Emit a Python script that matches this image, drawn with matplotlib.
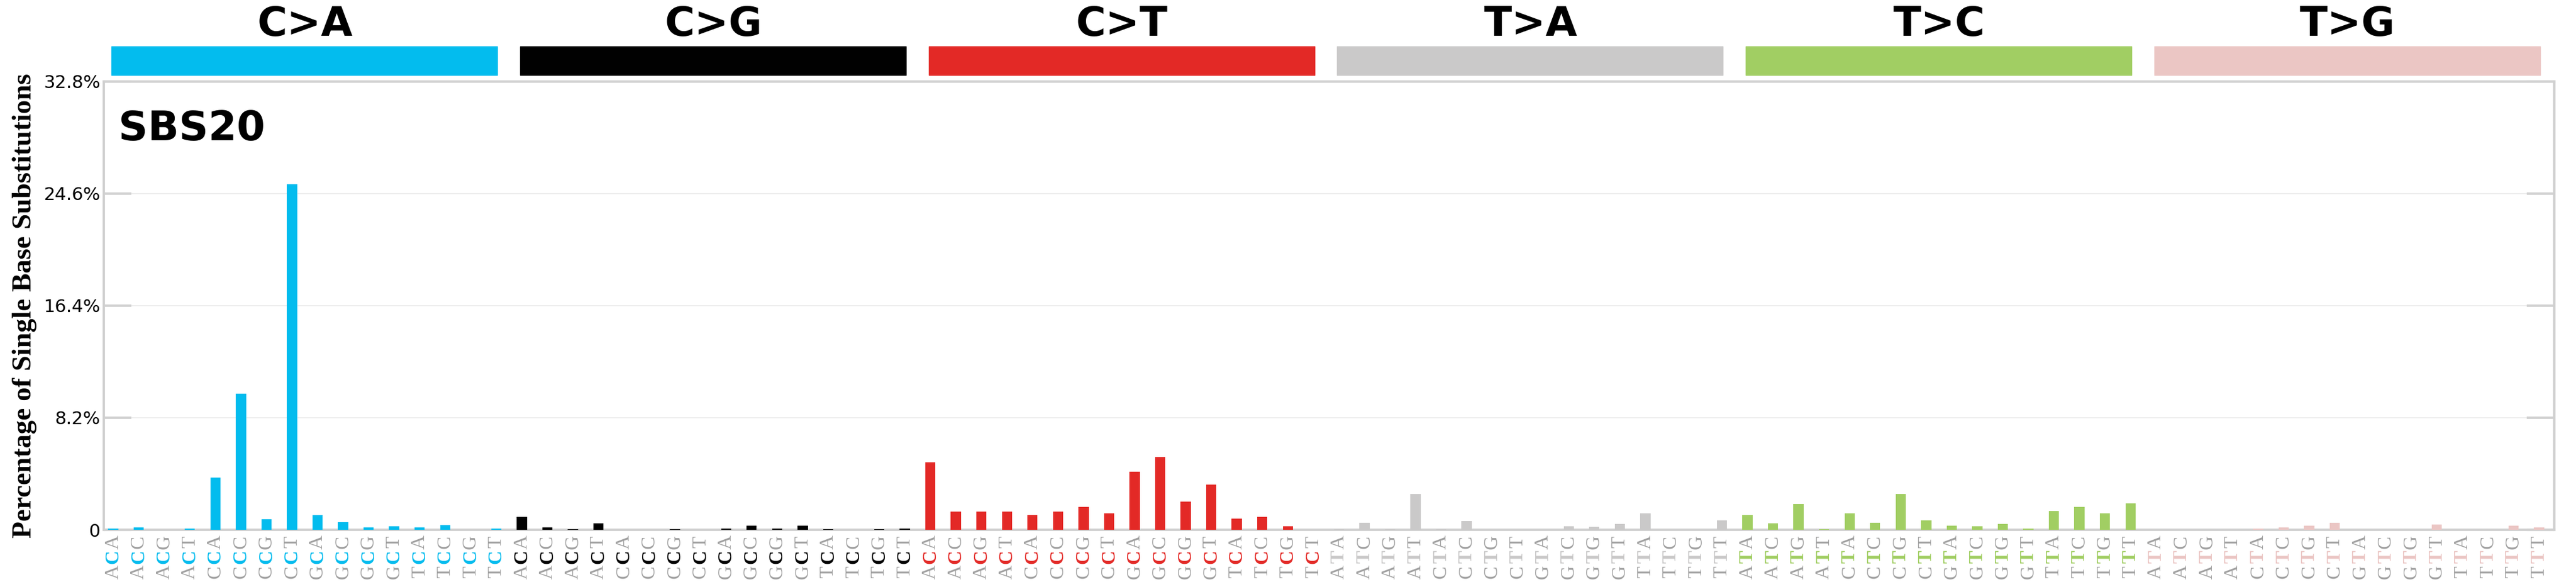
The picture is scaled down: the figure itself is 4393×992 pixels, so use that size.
import numpy as np
import matplotlib
matplotlib.use("Agg")
import matplotlib.pyplot as plt
import matplotlib.transforms as mtransforms

# SBS20 profile, percentages per trinucleotide context
mut_types = ["C>A", "C>G", "C>T", "T>A", "T>C", "T>G"]
colors = ["#03BCEE", "#010101", "#E32926", "#CAC9C9", "#A1CE63", "#EBC6C4"]
flanks = ["A", "C", "G", "T"]

ca = [0.1, 0.16, 0.0, 0.1, 3.8, 9.95, 0.76, 25.3, 1.06, 0.54, 0.16, 0.25, 0.16, 0.33, 0.0, 0.08]
cg = [0.93, 0.16, 0.03, 0.46, 0.0, 0.0, 0.03, 0.0, 0.08, 0.3, 0.08, 0.3, 0.03, 0.02, 0.03, 0.1]
ct = [4.93, 1.34, 1.34, 1.34, 1.06, 1.34, 1.66, 1.2, 4.25, 5.34, 2.07, 3.3, 0.82, 0.95, 0.25, 0.0]
ta = [0.03, 0.52, 0.03, 2.6, 0.03, 0.63, 0.02, 0.02, 0.0, 0.25, 0.22, 0.41, 1.2, 0.02, 0.02, 0.68]
tc = [1.06, 0.46, 1.88, 0.05, 1.2, 0.52, 2.6, 0.68, 0.3, 0.25, 0.41, 0.1, 1.36, 1.66, 1.2, 1.93]
tg = [0.0, 0.0, 0.0, 0.0, 0.1, 0.16, 0.3, 0.52, 0.0, 0.0, 0.0, 0.38, 0.0, 0.0, 0.3, 0.16]
values = ca + cg + ct + ta + tc + tg

yticks = [0, 8.2, 16.4, 24.6, 32.8]
ytick_labels = ["0", "8.2%", "16.4%", "24.6%", "32.8%"]

fig = plt.figure(figsize=(43.93, 9.92), dpi=100)
ax = fig.add_axes([0.0403, 0.0897, 0.9513, 0.7703])

x = np.arange(96)
bar_colors = [colors[i // 16] for i in x]
ax.bar(x, values, width=0.4, color=bar_colors, zorder=3)

ax.set_xlim(-0.37, 95.6)
ax.set_ylim(0, 32.8)
ax.set_yticks(yticks)
ax.set_yticklabels(ytick_labels, fontsize=22)
ax.set_xticks([])
ax.tick_params(axis="y", direction="in", length=34, width=3, color="#d0d0d0",
               right=True, pad=4)
ax.grid(axis="y", color="#ececec", linewidth=1.2, zorder=0)
for s in ax.spines.values():
    s.set_color("#d0d0d0")
    s.set_linewidth(3)

ax.set_ylabel("Percentage of Single Base Substitutions", fontsize=34,
              fontweight="bold", family="Liberation Serif", labelpad=8)

ax.text(0.006, 0.894, "SBS20", transform=ax.transAxes, fontsize=50,
        fontweight="bold", va="center", ha="left")

trans = mtransforms.blended_transform_factory(ax.transData, ax.transAxes)
for i, (mt, col) in enumerate(zip(mut_types, colors)):
    ax.add_patch(plt.Rectangle((i * 16 - 0.07, 1.0144), 15.11, 0.0641,
                               transform=trans, color=col, clip_on=False))
    ax.text(i * 16 + 7.5, 1.127, mt, transform=trans, fontsize=50,
            fontweight="bold", ha="center", va="center")

    ref = mt[0]
    for j in range(16):
        xi = i * 16 + j
        first = flanks[j // 4]
        third = flanks[j % 4]
        ax.text(xi, -0.094, first, transform=trans, rotation=90, fontsize=24,
                color="#a0a0a0", family="Liberation Serif", ha="center", va="center")
        ax.text(xi, -0.060, ref, transform=trans, rotation=90, fontsize=24,
                color=col, fontweight="bold", family="Liberation Serif",
                ha="center", va="center")
        ax.text(xi, -0.0275, third, transform=trans, rotation=90, fontsize=24,
                color="#a0a0a0", family="Liberation Serif", ha="center", va="center")

fig.savefig("out.png", dpi=100)
